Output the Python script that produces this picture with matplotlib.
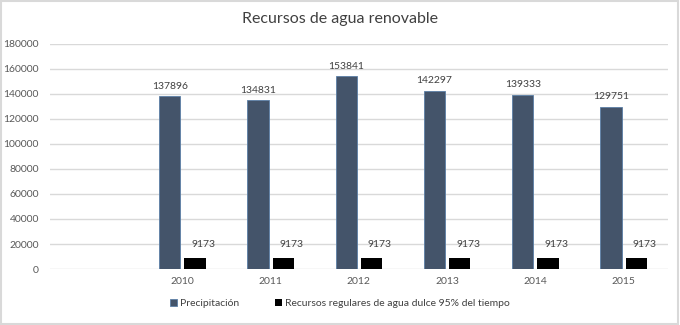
import matplotlib
matplotlib.use("Agg")
from matplotlib import pyplot as plt
from matplotlib.patches import Rectangle
import numpy as np

plt.rcParams['font.family'] = ['Lato', 'DejaVu Sans']

years = ['', '2010', '2011', '2012', '2013', '2014', '2015']
precipitacion = [np.nan, 137896, 134831, 153841, 142297, 139333, 129751]
recursos = [np.nan, 9173, 9173, 9173, 9173, 9173, 9173]

blue = '#44546A'
black = '#000000'
txt = '#595959'

fig = plt.figure(figsize=(6.8, 3.25), dpi=100)
ax = fig.add_axes([0.0735, 0.172, 0.9085, 0.694])

x = np.arange(len(years))
w = 0.24
off = 0.1425
b1 = ax.bar(x - off, precipitacion, w, color=blue, edgecolor='#5B7FA6', linewidth=0.6,
            label='Precipitación', zorder=3)
b2 = ax.bar(x + off, recursos, w, color=black, label='Recursos regulares de agua dulce 95% del tiempo',
            zorder=3)

for xi, v in zip(x, precipitacion):
    if not np.isnan(v):
        ax.annotate(str(int(v)), (xi - off, v), xytext=(0, 4), textcoords='offset points',
                    ha='center', va='bottom', fontsize=7.5, color='#404040')
for xi, v in zip(x, recursos):
    if not np.isnan(v):
        ax.annotate(str(int(v)), (xi + off, v), xytext=(6, 6), textcoords='offset points',
                    ha='center', va='bottom', fontsize=7.5, color='#404040')

ax.set_xlim(-0.5, len(years) - 0.5)
ax.set_ylim(0, 180000)
ax.set_yticks(np.arange(0, 180001, 20000))
ax.set_xticks(x)
ax.set_xticklabels(years)
ax.tick_params(length=0, labelsize=7.5, colors=txt)
ax.tick_params(axis='y', pad=8)
ax.tick_params(axis='x', pad=6)
ax.grid(axis='y', color='#D9D9D9', linewidth=1, zorder=0)
for s in ax.spines.values():
    s.set_visible(False)

fig.suptitle('Recursos de agua renovable', y=0.94, va='center', fontsize=11.5, color='#404040')

fig.legend(handles=[b1, b2], loc='center', bbox_to_anchor=(0.5, 0.067), ncol=2, frameon=False,
           fontsize=7.5, handlelength=0.7, handleheight=0.7, handletextpad=0.3, columnspacing=3.4,
           labelcolor='#404040')

fig.patches.append(Rectangle((0.002, 0.003), 0.995, 0.993, transform=fig.transFigure,
                             fill=False, edgecolor='#D9D9D9', linewidth=1.5))

fig.savefig("out.png", dpi=100)
